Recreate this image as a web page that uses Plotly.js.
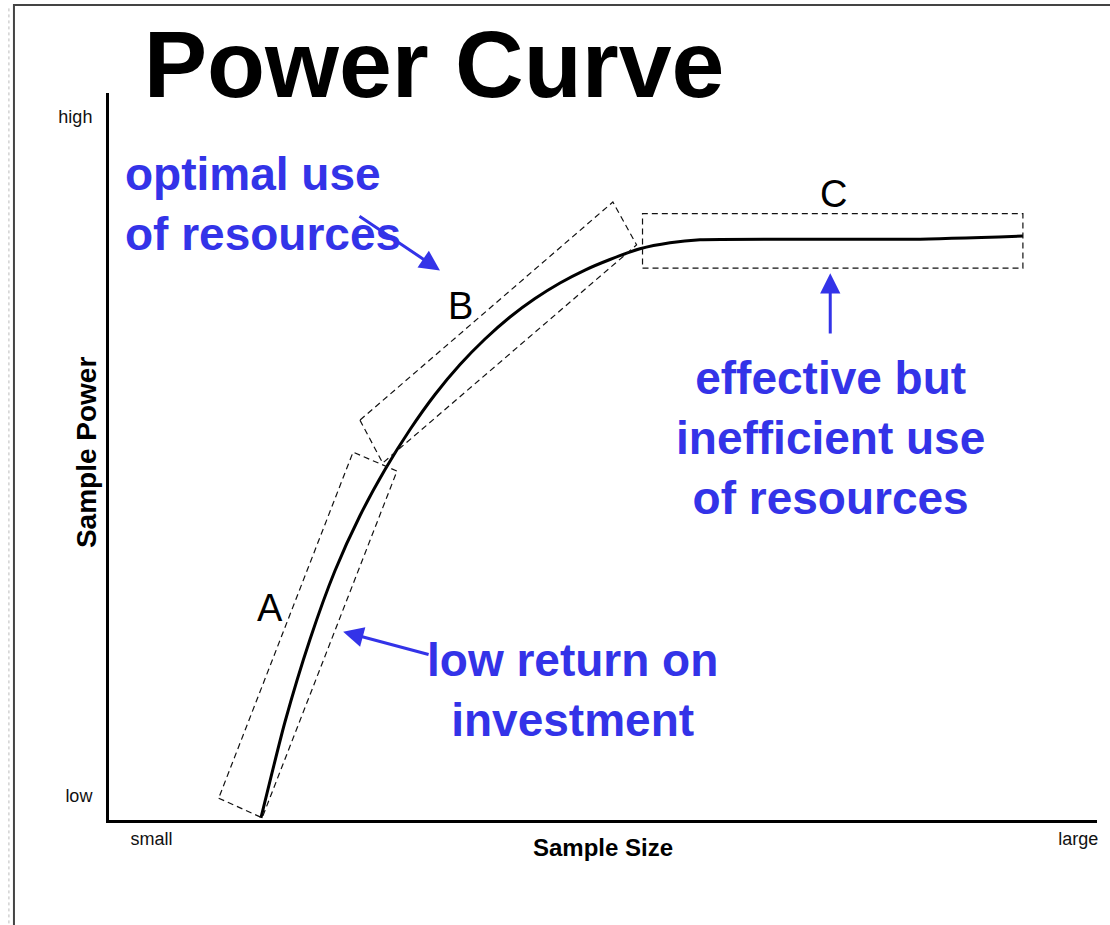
<!DOCTYPE html>
<html>
<head>
<meta charset="utf-8">
<script src="https://cdn.plot.ly/plotly-3.0.1.min.js"></script>
<style>html,body{margin:0;padding:0;background:#fff;}</style>
</head>
<body>
<div id="chart" style="width:1110px;height:925px;"></div>
<script>
// ---- data (sample size: 0 = small ... 100 = large; power: 0 = low ... 100 = high)
const sampleSize  = [15.38, 17.81, 20.34, 22.87, 25.40, 27.94, 30.47, 33.00, 35.53, 38.06, 40.59, 43.12, 45.65, 48.18, 50.71, 53.74, 56.78, 59.82, 81.38, 92.51];
const samplePower = [0.28, 13.48, 24.83, 34.28, 41.85, 48.21, 53.71, 58.53, 62.65, 66.16, 69.19, 71.73, 73.87, 75.65, 77.10, 78.58, 79.41, 79.82, 79.89, 80.33];

const xTickVals = [4.3, 98.1];
const xTickText = ['small', 'large'];
const yTickVals = [96.8, 3.4];
const yTickText = ['high', 'low'];

// region boxes (corner points in chart units)
const boxA_x = [11.1, 15.5, 29.15, 24.7];
const boxA_y = [3.0, 0.3, 48.0, 50.6];
const boxB_x = [25.4, 27.7, 53.4, 51.0];
const boxB_y = [55.0, 49.1, 79.1, 85.0];
const boxC_x = [54.0, 92.5, 92.5, 54.0];
const boxC_y = [75.9, 75.9, 83.4, 83.4];

const regionLabels = ['A', 'B', 'C'];
const regionLabelX = [16.3, 35.6, 73.3];
const regionLabelY = [29.2, 70.7, 86.1];

const notes = ['optimal use<br>of resources', 'low return on<br>investment', 'effective but<br>inefficient use<br>of resources'];
const noteX = [1.4, 46.9, 73.0];
const noteY = [84.7, 17.9, 52.6];
const noteAlign = ['left', 'center', 'center'];

// arrows: tail -> head
const arrowTailX = [25.2, 32.5, 73.0];
const arrowTailY = [83.2, 22.7, 66.7];
const arrowHeadX = [33.5, 23.7, 73.0];
const arrowHeadY = [75.6, 25.9, 75.2];

const BLUE = '#3333e8';
const FONT = 'Liberation Sans, Arial, Helvetica, sans-serif';

function boxPath(xs, ys) {
  let p = 'M' + xs[0] + ',' + ys[0];
  for (let i = 1; i < xs.length; i++) p += ' L' + xs[i] + ',' + ys[i];
  return p + ' Z';
}

const dashBox = {color: '#111', width: 1.2, dash: '6px,4px'};
const shapes = [
  {type: 'path', xref: 'x', yref: 'y', path: boxPath(boxA_x, boxA_y), line: dashBox},
  {type: 'path', xref: 'x', yref: 'y', path: boxPath(boxB_x, boxB_y), line: dashBox},
  {type: 'path', xref: 'x', yref: 'y', path: boxPath(boxC_x, boxC_y), line: dashBox},
  // page frame
  {type: 'rect', xref: 'paper', yref: 'paper', x0: -0.0962, x1: 1.03, y0: -0.2, y1: 1.1211,
   line: {color: '#444', width: 2}, layer: 'below'},
  {type: 'line', xref: 'paper', yref: 'paper', x0: -0.1013, x1: -0.1013, y0: -0.2, y1: 1.12,
   line: {color: '#bbb', width: 1, dash: 'dot'}, layer: 'below'}
];

const annotations = [];
for (let i = 0; i < regionLabels.length; i++) {
  annotations.push({x: regionLabelX[i], y: regionLabelY[i], xref: 'x', yref: 'y', text: regionLabels[i],
    showarrow: false, font: {family: FONT, size: 38, color: '#000'}, xanchor: 'center', yanchor: 'middle'});
}
for (let i = 0; i < notes.length; i++) {
  annotations.push({x: noteX[i], y: noteY[i], xref: 'x', yref: 'y', text: notes[i], showarrow: false,
    align: noteAlign[i], xanchor: noteAlign[i] === 'left' ? 'left' : 'center', yanchor: 'middle',
    font: {family: FONT, size: 46, color: BLUE, weight: 'bold'}});
}
for (let i = 0; i < arrowTailX.length; i++) {
  annotations.push({x: arrowHeadX[i], y: arrowHeadY[i], xref: 'x', yref: 'y',
    ax: arrowTailX[i], ay: arrowTailY[i], axref: 'x', ayref: 'y', text: '', showarrow: true,
    arrowhead: 2, arrowsize: 1.35, arrowwidth: 3, arrowcolor: BLUE, standoff: 0});
}
// axis titles
annotations.push({x: 50.0, y: -0.0385, xref: 'x', yref: 'paper', text: 'Sample Size', showarrow: false,
  xanchor: 'center', yanchor: 'middle', font: {family: FONT, size: 24, color: '#000', weight: 'bold'}});
annotations.push({x: -0.0233, y: 50.6, xref: 'paper', yref: 'y', text: 'Sample Power', showarrow: false,
  textangle: -90, xanchor: 'center', yanchor: 'middle', font: {family: FONT, size: 28, color: '#000', weight: 'bold'}});

const trace = {
  x: sampleSize, y: samplePower, type: 'scatter', mode: 'lines',
  line: {color: '#000', width: 3, shape: 'spline', smoothing: 0.6},
  hoverinfo: 'x+y', showlegend: false
};

const layout = {
  width: 1110, height: 925,
  margin: {l: 109, r: 13, t: 93, b: 105},
  paper_bgcolor: '#fff', plot_bgcolor: '#fff',
  title: {text: 'Power Curve', x: 0.391, xanchor: 'center', xref: 'container', y: 0.931, yanchor: 'middle', yref: 'container',
    font: {family: FONT, size: 95, color: '#000', weight: 'bold'}},
  xaxis: {range: [0, 100], showgrid: false, zeroline: false, showline: true, linecolor: '#000', linewidth: 3,
    tickmode: 'array', tickvals: xTickVals, ticktext: xTickText, ticks: '',
    tickfont: {family: FONT, size: 18, color: '#111'}, fixedrange: true},
  yaxis: {range: [0, 100], showgrid: false, zeroline: false, showline: true, linecolor: '#000', linewidth: 3,
    tickmode: 'array', tickvals: yTickVals, ticktext: yTickText, ticks: '', ticklabelstandoff: 10,
    tickfont: {family: FONT, size: 18, color: '#111'}, fixedrange: true},
  shapes: shapes,
  annotations: annotations,
  showlegend: false
};

Plotly.newPlot('chart', [trace], layout, {displayModeBar: false, staticPlot: true});
</script>
</body>
</html>
